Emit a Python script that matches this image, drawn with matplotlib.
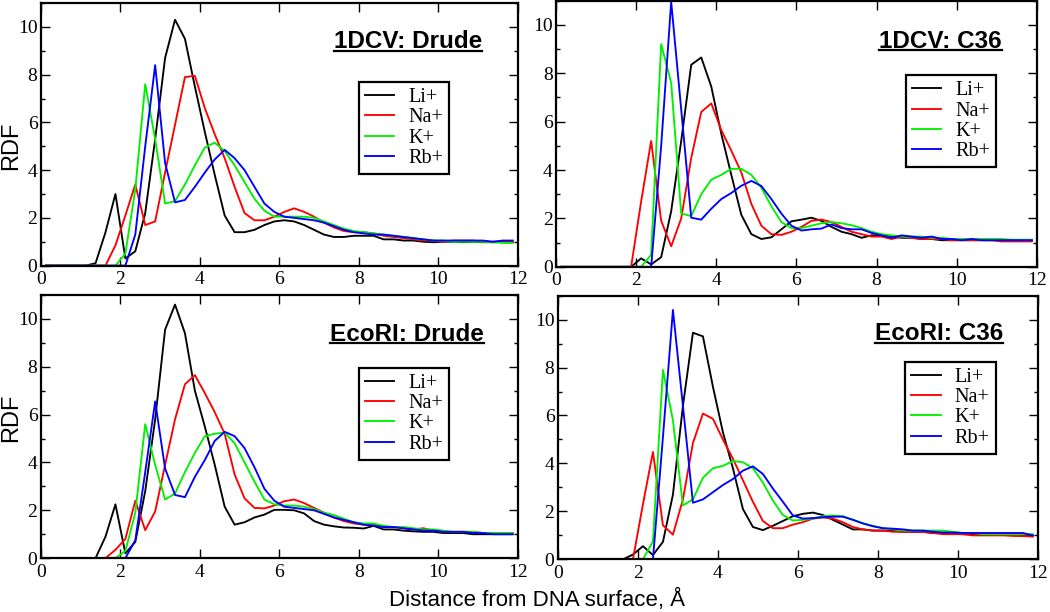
"""RDF of alkali cations around DNA surface: 1DCV / EcoRI, Drude vs C36."""

import matplotlib
matplotlib.use("Agg")
import matplotlib.pyplot as plt
from matplotlib.lines import Line2D
from matplotlib.ticker import MultipleLocator

plt.rcParams["font.family"] = ["Liberation Serif", "DejaVu Serif"]

# bin centres, Angstrom
R = [0.125, 0.375, 0.625, 0.875, 1.125, 1.375, 1.625, 1.875, 2.125, 2.375,
     2.625, 2.875, 3.125, 3.375, 3.625, 3.875, 4.125, 4.375, 4.625, 4.875,
     5.125, 5.375, 5.625, 5.875, 6.125, 6.375, 6.625, 6.875, 7.125, 7.375,
     7.625, 7.875, 8.125, 8.375, 8.625, 8.875, 9.125, 9.375, 9.625, 9.875,
     10.125, 10.375, 10.625, 10.875, 11.125, 11.375, 11.625, 11.875]

IONS = ["Li+", "Na+", "K+", "Rb+"]
COLORS = ["#000000", "#ff0000", "#00f000", "#0000ff"]

# --- 1DCV, Drude ---
DCV_DRUDE_LI = [0, 0, 0, 0, 0, 0.1, 1.4, 3.0, 0.3, 0.6, 2.2, 5.3, 8.7, 10.3, 9.5, 7.5,
                5.6, 3.8, 2.1, 1.4, 1.4, 1.5, 1.7, 1.85, 1.9, 1.85, 1.7, 1.5, 1.3, 1.2, 1.2, 1.25,
                1.25, 1.25, 1.1, 1.1, 1.05, 1.05, 1.0, 0.98, 1.0, 1.0, 0.98, 1.0, 0.98, 0.98, 1.0, 0.98]
DCV_DRUDE_NA = [0, 0, 0, 0, 0, 0, 0, 0.85, 2.1, 3.4, 1.7, 1.85, 3.9, 5.9, 7.9, 7.95,
                6.6, 5.5, 4.5, 3.3, 2.2, 1.9, 1.9, 2.05, 2.25, 2.4, 2.25, 2.05, 1.8, 1.6, 1.45, 1.4,
                1.4, 1.35, 1.25, 1.2, 1.15, 1.1, 1.05, 1.05, 1.0, 1.05, 1.05, 1.05, 1.0, 1.0, 1.0, 1.0]
DCV_DRUDE_K = [0, 0, 0, 0, 0, 0, 0, 0, 0.5, 3.2, 7.6, 5.3, 2.6, 2.7, 3.4, 4.2,
               4.95, 5.15, 4.8, 4.2, 3.5, 2.8, 2.3, 2.05, 2.05, 2.05, 2.05, 2.0, 1.85, 1.7, 1.55, 1.45,
               1.4, 1.35, 1.3, 1.25, 1.2, 1.15, 1.1, 1.05, 1.05, 1.0, 1.0, 1.0, 1.0, 0.98, 0.95, 0.95]
DCV_DRUDE_RB = [0, 0, 0, 0, 0, 0, 0, 0, 0, 1.3, 5.0, 8.4, 4.3, 2.65, 2.75, 3.3,
                3.9, 4.45, 4.85, 4.5, 4.0, 3.3, 2.6, 2.25, 2.05, 2.0, 1.95, 1.9, 1.8, 1.65, 1.5, 1.4,
                1.35, 1.3, 1.3, 1.25, 1.2, 1.15, 1.1, 1.05, 1.05, 1.05, 1.05, 1.05, 1.05, 1.0, 1.05, 1.05]

# --- 1DCV, C36 ---
DCV_C36_LI = [0, 0, 0, 0, 0, 0, 0, 0, 0.35, 0.1, 0.4, 2.3, 5.2, 8.35, 8.65, 7.45,
              5.5, 3.8, 2.15, 1.35, 1.15, 1.22, 1.55, 1.88, 1.95, 2.03, 1.9, 1.65, 1.45, 1.35, 1.2, 1.3,
              1.3, 1.25, 1.2, 1.2, 1.15, 1.15, 1.1, 1.1, 1.1, 1.1, 1.1, 1.1, 1.1, 1.1, 1.1, 1.1]
DCV_C36_NA = [0, 0, 0, 0, 0, 0, 0, 0, 2.7, 5.2, 1.9, 0.85, 2.0, 4.5, 6.4, 6.75,
              5.65, 4.8, 3.9, 2.6, 1.7, 1.35, 1.32, 1.45, 1.65, 1.9, 1.95, 1.85, 1.65, 1.45, 1.35, 1.25,
              1.25, 1.15, 1.25, 1.2, 1.15, 1.15, 1.15, 1.1, 1.1, 1.1, 1.1, 1.1, 1.05, 1.05, 1.05, 1.05]
DCV_C36_K = [0, 0, 0, 0, 0, 0, 0, 0, 0, 0.5, 9.2, 7.6, 2.2, 2.1, 3.0, 3.6,
             3.8, 4.05, 4.05, 3.8, 3.27, 2.5, 1.85, 1.6, 1.6, 1.7, 1.8, 1.85, 1.8, 1.72, 1.6, 1.45,
             1.35, 1.3, 1.25, 1.25, 1.25, 1.2, 1.2, 1.15, 1.15, 1.15, 1.15, 1.15, 1.15, 1.12, 1.12, 1.12]
DCV_C36_RB = [0, 0, 0, 0, 0, 0, 0, 0, 0, 0, 5.0, 10.95, 6.5, 2.03, 1.95, 2.4,
              2.8, 3.05, 3.35, 3.55, 3.34, 2.8, 2.2, 1.7, 1.5, 1.55, 1.58, 1.75, 1.6, 1.55, 1.55, 1.4,
              1.3, 1.2, 1.3, 1.25, 1.2, 1.25, 1.15, 1.15, 1.1, 1.15, 1.1, 1.1, 1.1, 1.1, 1.1, 1.1]

# --- EcoRI, Drude ---
ECO_DRUDE_LI = [0, 0, 0, 0, 0, 0, 0.9, 2.25, 0.2, 0.68, 2.8, 5.8, 9.55, 10.6, 9.4, 7.0,
                5.5, 3.9, 2.15, 1.4, 1.5, 1.7, 1.82, 2.02, 2.02, 2.0, 1.87, 1.55, 1.4, 1.33, 1.28, 1.27,
                1.24, 1.35, 1.2, 1.2, 1.15, 1.12, 1.1, 1.1, 1.05, 1.05, 1.05, 1.0, 1.0, 1.0, 1.0, 1.0]
ECO_DRUDE_NA = [0, 0, 0, 0, 0, 0, 0, 0.35, 0.8, 2.4, 1.17, 1.95, 3.9, 5.8, 7.27, 7.65,
                6.9, 6.1, 5.2, 3.5, 2.5, 2.1, 2.08, 2.2, 2.38, 2.45, 2.3, 2.1, 1.9, 1.7, 1.55, 1.45,
                1.4, 1.4, 1.3, 1.3, 1.25, 1.2, 1.25, 1.15, 1.1, 1.1, 1.1, 1.1, 1.05, 1.05, 1.05, 1.05]
ECO_DRUDE_K = [0, 0, 0, 0, 0, 0, 0, 0, 0.3, 1.9, 5.6, 3.9, 2.45, 2.7, 3.6, 4.4,
               5.1, 5.2, 5.25, 4.8, 4.0, 3.2, 2.45, 2.25, 2.2, 2.2, 2.15, 2.05, 1.9, 1.8, 1.65, 1.5,
               1.45, 1.45, 1.35, 1.3, 1.3, 1.25, 1.2, 1.2, 1.15, 1.1, 1.1, 1.1, 1.05, 1.05, 1.05, 1.05]
ECO_DRUDE_RB = [0, 0, 0, 0, 0, 0, 0, 0, 0, 0.75, 3.6, 6.55, 3.75, 2.64, 2.55, 3.4,
                4.1, 4.9, 5.28, 5.1, 4.6, 3.8, 2.9, 2.4, 2.15, 2.1, 2.05, 2.0, 1.85, 1.7, 1.6, 1.5,
                1.4, 1.35, 1.3, 1.3, 1.25, 1.2, 1.15, 1.15, 1.1, 1.1, 1.1, 1.05, 1.05, 1.0, 1.0, 1.0]

# --- EcoRI, C36 ---
ECO_C36_LI = [0, 0, 0, 0, 0, 0, 0, 0.2, 0.55, 0.18, 0.73, 2.7, 6.4, 9.45, 9.3, 7.2,
              5.3, 3.8, 2.1, 1.35, 1.22, 1.4, 1.6, 1.8, 1.9, 1.95, 1.85, 1.65, 1.45, 1.25, 1.25, 1.2,
              1.2, 1.2, 1.15, 1.15, 1.15, 1.1, 1.1, 1.1, 1.05, 1.05, 1.05, 1.05, 1.05, 1.0, 1.0, 1.0]
ECO_C36_NA = [0, 0, 0, 0, 0, 0, 0, 0, 2.3, 4.48, 1.42, 1.03, 2.5, 4.85, 6.08, 5.86,
              5.0, 4.2, 3.3, 2.4, 1.6, 1.3, 1.3, 1.45, 1.55, 1.7, 1.75, 1.7, 1.55, 1.35, 1.25, 1.2,
              1.2, 1.15, 1.15, 1.15, 1.15, 1.1, 1.05, 1.05, 1.05, 1.0, 1.0, 1.0, 1.0, 0.98, 0.97, 0.95]
ECO_C36_K = [0, 0, 0, 0, 0, 0, 0, 0, 0, 0.75, 7.9, 5.8, 2.25, 2.5, 3.4, 3.8,
             3.9, 4.1, 4.05, 3.8, 3.2, 2.45, 1.85, 1.62, 1.65, 1.7, 1.8, 1.83, 1.8, 1.65, 1.5, 1.4,
             1.3, 1.25, 1.2, 1.2, 1.2, 1.2, 1.2, 1.15, 1.1, 1.1, 1.05, 1.05, 1.05, 1.05, 1.05, 1.05]
ECO_C36_RB = [0, 0, 0, 0, 0, 0, 0, 0, 0, 0, 5.1, 10.4, 6.4, 2.36, 2.5, 2.8,
              3.1, 3.35, 3.7, 3.88, 3.56, 2.95, 2.4, 1.83, 1.7, 1.72, 1.76, 1.78, 1.78, 1.65, 1.5, 1.38,
              1.3, 1.28, 1.25, 1.2, 1.2, 1.15, 1.12, 1.12, 1.1, 1.1, 1.1, 1.1, 1.1, 1.1, 1.1, 1.0]

TITLES = ["1DCV: Drude", "1DCV: C36", "EcoRI: Drude", "EcoRI: C36"]
SERIES = [
    [DCV_DRUDE_LI, DCV_DRUDE_NA, DCV_DRUDE_K, DCV_DRUDE_RB],
    [DCV_C36_LI, DCV_C36_NA, DCV_C36_K, DCV_C36_RB],
    [ECO_DRUDE_LI, ECO_DRUDE_NA, ECO_DRUDE_K, ECO_DRUDE_RB],
    [ECO_C36_LI, ECO_C36_NA, ECO_C36_K, ECO_C36_RB],
]

# layout (figure fractions / axes fractions)
AX_POS = [(0.039, 0.566, 0.454, 0.429), (0.5295, 0.564, 0.458, 0.435),
          (0.039, 0.088, 0.454, 0.430), (0.5314, 0.086, 0.457, 0.431)]
LEG_ANCHOR = [(0.857, 0.70), (0.915, 0.72), (0.857, 0.724), (0.9125, 0.75)]
TITLE_XY = [(0.925, 0.828), (0.927, 0.822), (0.929, 0.826), (0.927, 0.830)]

fig = plt.figure(figsize=(10.5, 6.12), dpi=100)
titles = []
for pos, series, title, leg_xy, txy in zip(AX_POS, SERIES, TITLES, LEG_ANCHOR, TITLE_XY):
    ax = fig.add_axes(pos)
    for ion, col, y in zip(IONS, COLORS, series):
        ax.plot(R, y, color=col, lw=1.35, label=ion)
    ax.set_xlim(0, 12)
    ax.set_ylim(0, 11)
    ax.xaxis.set_major_locator(MultipleLocator(2))
    ax.yaxis.set_major_locator(MultipleLocator(2))
    ax.yaxis.set_minor_locator(MultipleLocator(1))
    ax.tick_params(which="both", direction="in", top=True, right=True, width=1.0,
                   labelsize=14)
    ax.tick_params(which="major", length=6.5)
    ax.tick_params(which="minor", length=3)
    ax.tick_params(axis="x", pad=4)
    ax.tick_params(axis="y", pad=2.5)
    for sp in ax.spines.values():
        sp.set_linewidth(1.6)
    leg = ax.legend(loc="upper right", bbox_to_anchor=leg_xy, fontsize=14.5,
                    fancybox=False, frameon=True, edgecolor="black",
                    handlelength=1.45, handletextpad=0.7, labelspacing=0.06,
                    borderpad=0.3, borderaxespad=0)
    leg.get_frame().set_linewidth(1.6)
    leg.get_frame().set_alpha(1)
    t = ax.text(txy[0], txy[1], title, transform=ax.transAxes, ha="right",
                va="baseline", fontsize=17.5, fontweight="bold",
                family=["Liberation Sans", "DejaVu Sans"])
    titles.append((ax, t, txy[1]))

fig.text(0.0, 0.761, "RDF", rotation=90, ha="left", va="center", fontsize=17,
         family=["Liberation Sans", "DejaVu Sans"])
fig.text(0.0, 0.317, "RDF", rotation=90, ha="left", va="center", fontsize=17,
         family=["Liberation Sans", "DejaVu Sans"])
fig.text(0.511, 0.009, "Distance from DNA surface, Å", ha="center", va="baseline",
         fontsize=16, family=["Liberation Sans", "DejaVu Sans"])

# underline the panel titles
fig.canvas.draw()
renderer = fig.canvas.get_renderer()
W, H = fig.bbox.width, fig.bbox.height
for ax, t, ybase in titles:
    bb = t.get_window_extent(renderer)
    y_px = ax.transAxes.transform((0, ybase))[1] - 2.5
    fig.add_artist(Line2D([bb.x0 / W, bb.x1 / W], [y_px / H, y_px / H],
                          color="black", lw=1.6, transform=fig.transFigure))

fig.savefig("out.png", dpi=100)
